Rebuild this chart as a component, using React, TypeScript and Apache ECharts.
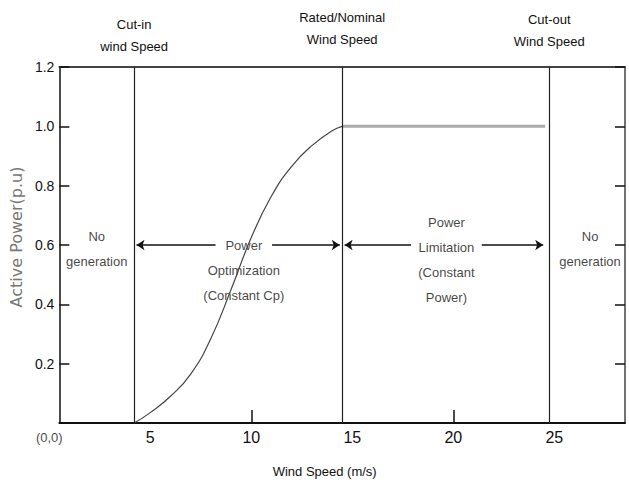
import React, { useEffect, useRef } from 'react';
import * as echarts from 'echarts';

// ---- data ----
const curveWindSpeed = [4.2, 5, 6, 7, 8, 9, 10, 11, 12, 13, 14, 14.5];
const curvePower = [0, 0.035, 0.09, 0.165, 0.285, 0.45, 0.625, 0.765, 0.865, 0.935, 0.985, 1.0];
const ratedSpan = [14.5, 24.55];
const ratedPower = 1.0;
const boundaryNames = ['Cut-in\nwind Speed', 'Rated/Nominal\nWind Speed', 'Cut-out\nWind Speed'];
const boundarySpeeds = [4.2, 14.5, 24.75];
const xTickLabels = [5, 10, 15, 20, 25];
const xTickMarks = [10, 20];
const regionTexts = ['No\ngeneration', 'Power\nOptimization\n(Constant Cp)', 'Power\nLimitation\n(Constant\nPower)', 'No\ngeneration'];
const regionTextX = [2.35, 9.63, 19.66, 26.77];
const regionTextY = [0.586, 0.514, 0.55, 0.586];
const arrowLevel = 0.6;
const arrowGapCenter = [9.63, 19.66];

// ---- layout ----
const FONT = '"Liberation Sans Narrow", "Arial Narrow", "Liberation Sans", Arial, sans-serif';
const arrowGapHalf = [1.4, 1.75];
const boundaryLabelDistance = [10, 17, 15];

export default function App() {
  const ref = useRef<HTMLDivElement>(null);
  useEffect(() => {
    if (!ref.current) return;
    const chart = echarts.init(ref.current, null, { renderer: 'svg' });

    const arrowData: any[] = [];
    for (let i = 0; i < 2; i++) {
      const a = boundarySpeeds[i];
      const b = boundarySpeeds[i + 1];
      arrowData.push([
        { coord: [a + 0.12, arrowLevel], symbol: 'arrow' },
        { coord: [arrowGapCenter[i] - arrowGapHalf[i], arrowLevel], symbol: 'none' },
      ]);
      arrowData.push([
        { coord: [arrowGapCenter[i] + arrowGapHalf[i], arrowLevel], symbol: 'none' },
        { coord: [b - (i === 1 ? 0.3 : 0.12), arrowLevel], symbol: 'arrow' },
      ]);
    }

    const option: any = {
      animation: false,
      backgroundColor: '#fff',
      grid: { left: 58, right: 4, top: 67, bottom: 62 },
      xAxis: [
        {
          type: 'value',
          min: 0.5,
          max: 28.5,
          axisLine: { show: true, onZero: false, lineStyle: { color: '#111', width: 2 } },
          splitLine: { show: false },
          axisTick: { show: true, inside: true, length: 13, customValues: xTickMarks, lineStyle: { color: '#111', width: 1.5 } },
          axisLabel: { customValues: xTickLabels, margin: 6, fontFamily: FONT, fontSize: 16, color: '#111' },
          name: 'Wind Speed (m/s)',
          nameLocation: 'middle',
          nameGap: 42,
          nameTextStyle: { fontFamily: FONT, fontSize: 13, color: '#111', padding: [0, 35, 0, 0] },
        },
        {
          type: 'value',
          position: 'top',
          min: 0.5,
          max: 28.5,
          axisLine: { show: true, onZero: false, lineStyle: { color: '#444', width: 2 } },
          splitLine: { show: false },
          axisTick: { show: false },
          axisLabel: { show: false },
        },
      ],
      yAxis: [
        {
          type: 'value',
          min: 0,
          max: 1.2,
          interval: 0.2,
          axisLine: { show: true, onZero: false, lineStyle: { color: '#111', width: 1.5 } },
          splitLine: { show: false },
          axisTick: { show: true, inside: true, length: 10, lineStyle: { color: '#111', width: 1.5 } },
          axisLabel: {
            margin: 5,
            fontFamily: FONT,
            fontSize: 14,
            color: '#111',
            formatter: (v: number) => (v === 0 ? '' : v.toFixed(1)),
          },
          name: 'Active Power(p.u)',
          nameLocation: 'middle',
          nameGap: 26,
          nameRotate: 90,
          nameTextStyle: { fontFamily: '"DejaVu Sans", sans-serif', fontSize: 16, color: '#777', padding: [0, 0, 0, 16] },
        },
        {
          type: 'value',
          position: 'right',
          min: 0,
          max: 1.2,
          interval: 0.2,
          axisLine: { show: true, onZero: false, lineStyle: { color: '#444', width: 1.5 } },
          splitLine: { show: false },
          axisTick: { show: true, inside: true, length: 10, lineStyle: { color: '#111', width: 1.5 } },
          axisLabel: { show: false },
        },
      ],
      series: [
        {
          type: 'line',
          smooth: 0.5,
          showSymbol: false,
          data: curveWindSpeed.map((x, i) => [x, curvePower[i]]),
          lineStyle: { color: '#444', width: 1.2 },
          z: 3,
          markLine: {
            silent: true,
            symbol: 'none',
            lineStyle: { color: '#222', width: 1.2, type: 'solid' },
            label: {
              show: true,
              position: 'end',
              fontFamily: FONT,
              fontSize: 13,
              lineHeight: 22,
              color: '#111',
            },
            data: boundarySpeeds.map((x, i) => ({
              xAxis: x,
              label: { formatter: boundaryNames[i], distance: boundaryLabelDistance[i] },
            })),
          },
        },
        {
          type: 'line',
          showSymbol: false,
          data: ratedSpan.map((x) => [x, ratedPower]),
          lineStyle: { color: '#aaa', width: 3 },
          z: 2,
          markLine: {
            silent: true,
            symbolSize: 8,
            lineStyle: { color: '#111', width: 1.5, type: 'solid' },
            label: { show: false },
            data: arrowData,
          },
        },
        {
          type: 'scatter',
          symbolSize: 0,
          silent: true,
          data: regionTexts.map((t, i) => ({ value: [regionTextX[i], regionTextY[i]], name: t })),
          label: {
            show: true,
            position: 'inside',
            formatter: (p: any) => p.name,
            fontFamily: FONT,
            fontSize: 13,
            lineHeight: 25,
            color: '#111',
            align: 'center',
            verticalAlign: 'middle',
          },
        },
        {
          type: 'scatter',
          symbolSize: 0,
          silent: true,
          clip: false,
          data: [[0, 0]],
          label: {
            show: true,
            position: 'bottom',
            distance: 8,
            formatter: '(0,0)',
            fontFamily: FONT,
            fontSize: 13,
            color: '#111',
          },
        },
      ],
    };
    chart.setOption(option);
    return () => chart.dispose();
  }, []);
  return <div ref={ref} style={{ position: 'fixed', left: 0, top: 0, width: 629, height: 485 }} />;
}
